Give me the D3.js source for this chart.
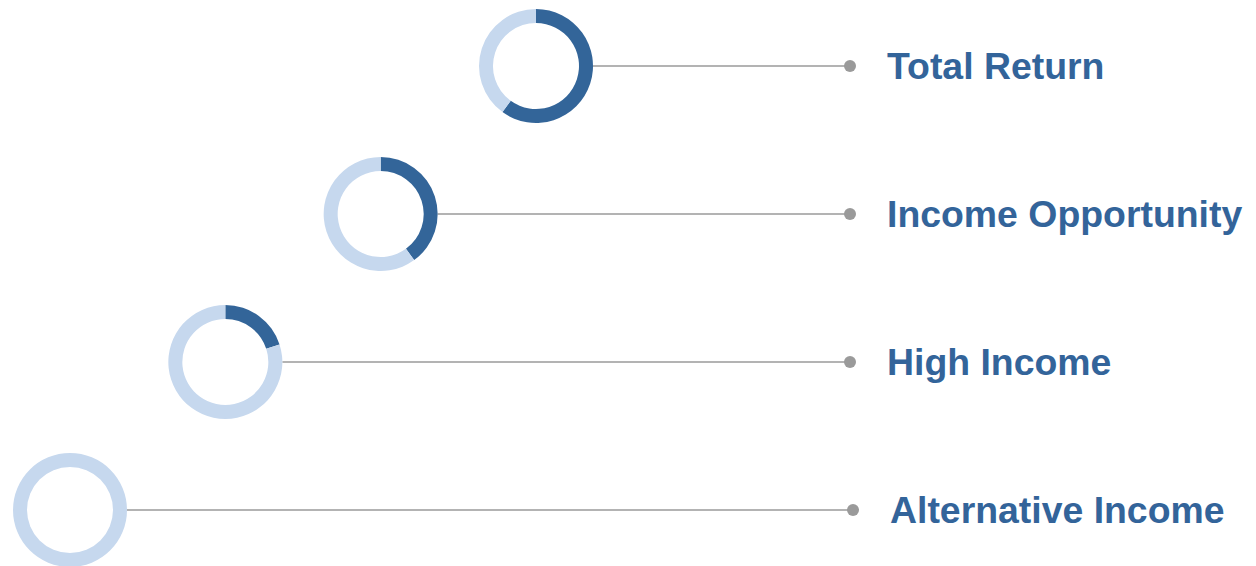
<!DOCTYPE html>
<html>
<head>
<meta charset="utf-8">
<script src="https://cdn.jsdelivr.net/npm/d3@7"></script>
<style>
  html, body { margin: 0; padding: 0; background: #fff; }
  svg { display: block; }
</style>
</head>
<body>
<div id="chart"></div>
<script>
// strategies, top to bottom
var categories = ['Total Return', 'Income Opportunity', 'High Income', 'Alternative Income']
// share of the ring in dark blue (percent)
var values = [60, 40, 20, 0]

var init = function(domelement) {
	var width = 1256, height = 566
	var svg = d3.select(domelement).append('svg')
		.attr('width', width)
		.attr('height', height)

	var x = d3.scaleLinear().domain([0, categories.length - 1]).range([536, 70])
	var y = d3.scaleLinear().domain([0, categories.length - 1]).range([66, 510])

	var outer = 57, inner = 43
	var arc = d3.arc().innerRadius(inner).outerRadius(outer)
	var pie = d3.pie().sort(null).value(function(d) { return d })

	var rows = svg.selectAll('g.row')
		.data(categories)
		.enter()
		.append('g').attr('class', 'row')
		.attr('transform', function(d, i) { return 'translate(0,' + y(i) + ')' })

	// the last row sits a few px further right in the original
	var shift = function(i) { return i === categories.length - 1 ? 3 : 0 }

	rows.append('line')
		.attr('x1', function(d, i) { return x(i) + outer })
		.attr('x2', function(d, i) { return 850 + shift(i) })
		.attr('y1', 0).attr('y2', 0)
		.attr('stroke', '#9a9a9a')
		.attr('stroke-width', 1.5)

	rows.append('circle')
		.attr('cx', function(d, i) { return 850 + shift(i) })
		.attr('cy', 0)
		.attr('r', 6)
		.attr('fill', '#9a9a9a')

	rows.append('text')
		.attr('x', function(d, i) { return 887 + shift(i) })
		.attr('y', 0)
		.attr('dy', '0.36em')
		.attr('font-family', 'Liberation Sans, Arial, sans-serif')
		.attr('font-weight', 'bold')
		.attr('font-size', 37.4)
		.attr('fill', '#33649a')
		.text(function(d) { return d })

	rows.each(function(d, i) {
		var g = d3.select(this).append('g')
			.attr('transform', 'translate(' + x(i) + ',0)')
		g.selectAll('path')
			.data(pie([values[i], 100 - values[i]]))
			.enter()
			.append('path')
			.attr('d', arc)
			.attr('fill', function(p, j) { return j === 0 ? '#336599' : '#c6d8ee' })
	})
}

init('#chart')
</script>
</body>
</html>
